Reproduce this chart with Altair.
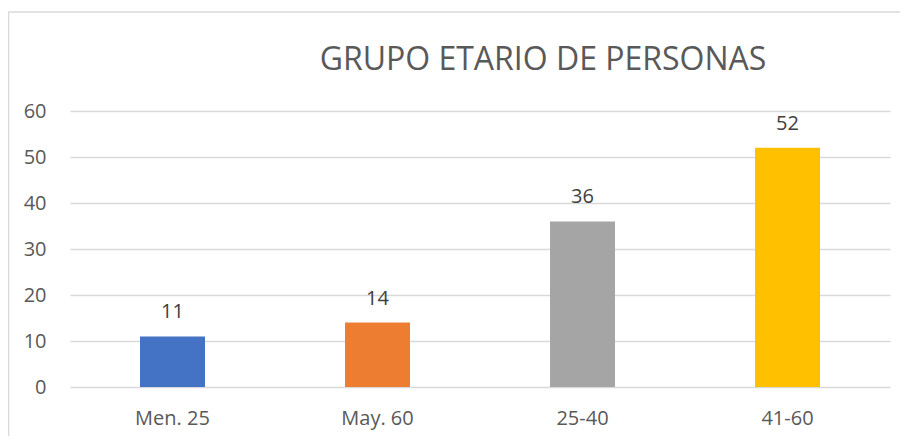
import altair as alt
import pandas as pd

categories = ["Men. 25", "May. 60", "25-40", "41-60"]
values = [11, 14, 36, 52]
colors = ["#4472C4", "#ED7D31", "#A5A5A5", "#FFC000"]
y_ticks = [0, 10, 20, 30, 40, 50, 60]
title_text = "GRUPO ETARIO DE PERSONAS"

df = pd.DataFrame({"cat": categories, "val": values})

FONT = "Open Sans"

x_enc = alt.X("cat:N", sort=categories, title=None,
              scale=alt.Scale(paddingInner=0.683, paddingOuter=0.3415),
              axis=alt.Axis(domain=False, ticks=False, labelAngle=0, labelPadding=21,
                            labelFont=FONT, labelFontSize=20, labelColor="#595959"))
y_enc = alt.Y("val:Q", title=None,
              scale=alt.Scale(domain=[0, 60], nice=False),
              axis=alt.Axis(values=y_ticks, domain=False, ticks=False, labelPadding=24,
                            gridColor="#D9D9D9", gridWidth=1.3,
                            labelFont=FONT, labelFontSize=20, labelColor="#595959"))

bars = alt.Chart(df).mark_bar().encode(
    x=x_enc, y=y_enc,
    color=alt.Color("cat:N", scale=alt.Scale(domain=categories, range=colors), legend=None),
)

labels = alt.Chart(df).mark_text(baseline="alphabetic", dy=-18, font=FONT, fontSize=20,
                                 color="#404040").encode(
    x=alt.X("cat:N", sort=categories), y="val:Q", text="val:Q"
)

border = alt.Chart(alt.Data(values=[{}])).mark_rect(
    fill=None, stroke="#D9D9D9", strokeWidth=1.5, clip=False
).encode(
    x=alt.value(-61.5), x2=alt.value(900), y=alt.value(-99), y2=alt.value(400)
)

title = alt.Chart(alt.Data(values=[{"t": title_text}])).mark_text(
    font=FONT, fontSize=32, color="#595959", align="center", baseline="alphabetic"
).encode(
    x=alt.value(473), y=alt.value(-41), text="t:N"
)

chart = alt.layer(border, bars, labels, title).properties(
    width=820, height=276,
    padding={"left": 62, "top": 103, "right": 10, "bottom": 49},
    autosize="none",
).configure_view(stroke=None)

chart.save("out.html", embed_options={"renderer": "svg", "actions": False})
